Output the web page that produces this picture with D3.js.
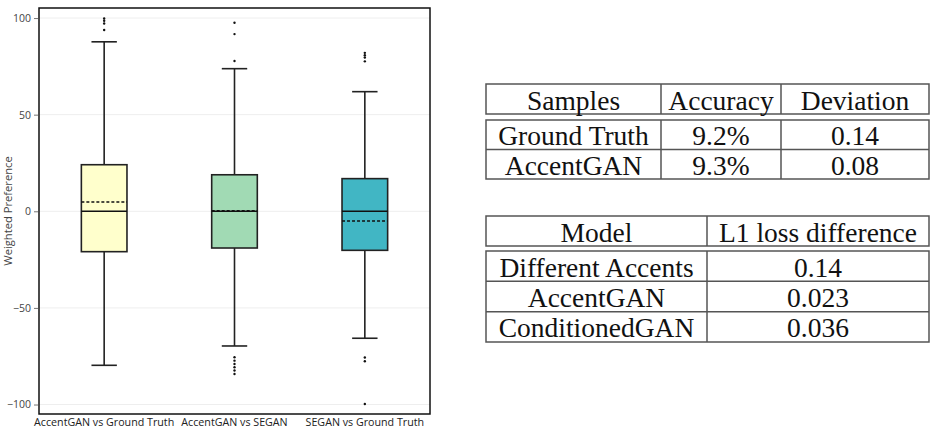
<!DOCTYPE html>
<html>
<head>
<meta charset="utf-8">
<script src="https://cdn.jsdelivr.net/npm/d3@7"></script>
<style>
  body { margin: 0; background: #fff; }
  svg { display: block; }
</style>
</head>
<body>
<script>
// Box plot data
const categories = ["AccentGAN vs Ground Truth", "AccentGAN vs SEGAN", "SEGAN vs Ground Truth"];
const q1 = [-20.9, -19.0, -20.2];
const medians = [0, 0, 0];
const q3 = [24.1, 18.9, 16.9];
const means = [4.8, 0.3, -5.0];
const whiskerLow = [-79.7, -69.7, -65.7];
const whiskerHigh = [87.7, 73.8, 61.9];
const outliers = [
  [99.8, 98.6, 97.2, 93.8],
  [97.6, 91.7, 77.8, -75.5, -77.3, -79.0, -80.7, -82.4, -84.2],
  [82.0, 80.8, 79.6, 77.6, -75.7, -77.6, -99.7]
];
const yTicks = [-100, -50, 0, 50, 100];
const boxColors = ["#ffffcc", "#a1dab4", "#41b6c4"];

// Tables
const table1Header = ["Samples", "Accuracy", "Deviation"];
const table1Rows = [["Ground Truth", "9.2%", "0.14"], ["AccentGAN", "9.3%", "0.08"]];
const table2Header = ["Model", "L1 loss difference"];
const table2Rows = [["Different Accents", "0.14"], ["AccentGAN", "0.023"], ["ConditionedGAN", "0.036"]];

const w = 931, h = 429;
const plot = { left: 39, right: 430, top: 8, bottom: 414 };

const svg = d3.select("body").append("svg")
  .attr("width", w)
  .attr("height", h);

const x = d3.scaleBand()
  .domain(categories)
  .range([plot.left, plot.right]);

const y = d3.scaleLinear()
  .domain([-104.9, 105.2])
  .range([plot.bottom, plot.top]);

// grid
svg.append("g")
  .selectAll("line")
  .data(yTicks)
  .join("line")
  .attr("x1", plot.left)
  .attr("x2", plot.right)
  .attr("y1", d => y(d))
  .attr("y2", d => y(d))
  .attr("stroke", "#eeeeee")
  .attr("stroke-width", 1);

// y axis
const yAxis = d3.axisLeft(y).tickValues(yTicks).tickSize(4).tickPadding(3)
  .tickFormat(d => d < 0 ? "\u2212" + Math.abs(d) : d);
const yg = svg.append("g")
  .attr("transform", `translate(${plot.left - 1},0)`)
  .call(yAxis);
yg.select(".domain").remove();
yg.selectAll(".tick line").attr("stroke", "#777");
yg.selectAll(".tick text")
  .attr("fill", "#444")
  .style("font-family", "'Open Sans', sans-serif")
  .style("font-size", "10.5px");

svg.append("text")
  .attr("transform", `translate(12,${(plot.top + plot.bottom) / 2}) rotate(-90)`)
  .attr("text-anchor", "middle")
  .attr("fill", "#444")
  .style("font-family", "'Open Sans', sans-serif")
  .style("font-size", "11.2px")
  .text("Weighted Preference");

// x labels
svg.append("g")
  .selectAll("text")
  .data(categories)
  .join("text")
  .attr("x", d => x(d) + x.bandwidth() / 2)
  .attr("y", 426)
  .attr("text-anchor", "middle")
  .attr("fill", "#222")
  .style("font-family", "'Open Sans', sans-serif")
  .style("font-size", "10.7px")
  .text(d => d);

// boxes
const boxW = x.bandwidth() * 0.35;
const capW = x.bandwidth() * 0.195;
const boxes = svg.append("g")
  .selectAll("g")
  .data(categories)
  .join("g")
  .attr("transform", d => `translate(${x(d) + x.bandwidth() / 2},0)`);

boxes.append("line")
  .attr("y1", (d, i) => y(whiskerHigh[i]))
  .attr("y2", (d, i) => y(q3[i]))
  .attr("stroke", "#222").attr("stroke-width", 1.6);
boxes.append("line")
  .attr("y1", (d, i) => y(q1[i]))
  .attr("y2", (d, i) => y(whiskerLow[i]))
  .attr("stroke", "#222").attr("stroke-width", 1.6);
boxes.append("line")
  .attr("x1", -capW / 2).attr("x2", capW / 2)
  .attr("y1", (d, i) => y(whiskerHigh[i]))
  .attr("y2", (d, i) => y(whiskerHigh[i]))
  .attr("stroke", "#222").attr("stroke-width", 1.6);
boxes.append("line")
  .attr("x1", -capW / 2).attr("x2", capW / 2)
  .attr("y1", (d, i) => y(whiskerLow[i]))
  .attr("y2", (d, i) => y(whiskerLow[i]))
  .attr("stroke", "#222").attr("stroke-width", 1.6);
boxes.append("rect")
  .attr("x", -boxW / 2)
  .attr("width", boxW)
  .attr("y", (d, i) => y(q3[i]))
  .attr("height", (d, i) => y(q1[i]) - y(q3[i]))
  .attr("fill", (d, i) => boxColors[i])
  .attr("stroke", "#222").attr("stroke-width", 1.6);
boxes.append("line")
  .attr("x1", -boxW / 2).attr("x2", boxW / 2)
  .attr("y1", (d, i) => y(medians[i]))
  .attr("y2", (d, i) => y(medians[i]))
  .attr("stroke", "#111").attr("stroke-width", 1.6);
boxes.append("line")
  .attr("x1", -boxW / 2).attr("x2", boxW / 2)
  .attr("y1", (d, i) => y(means[i]))
  .attr("y2", (d, i) => y(means[i]))
  .attr("stroke", "#111").attr("stroke-width", 1.4)
  .attr("stroke-dasharray", "3,2");
boxes.each(function (d, i) {
  d3.select(this).selectAll("circle")
    .data(outliers[i])
    .join("circle")
    .attr("cx", 0)
    .attr("cy", v => y(v))
    .attr("r", 1.2)
    .attr("fill", "#111");
});

// frame
svg.append("rect")
  .attr("x", plot.left)
  .attr("y", plot.top)
  .attr("width", plot.right - plot.left)
  .attr("height", plot.bottom - plot.top)
  .attr("fill", "none")
  .attr("stroke", "#111")
  .attr("stroke-width", 1.5);

// tables
function drawTable(header, rows, colEdges, headTop, headBottom, bodyTop, bodyBottom) {
  const g = svg.append("g");
  const rowY = d3.scaleBand()
    .domain(d3.range(rows.length))
    .range([bodyTop, bodyBottom]);
  const line = (x1, y1, x2, y2) => g.append("line")
    .attr("x1", x1).attr("y1", y1).attr("x2", x2).attr("y2", y2)
    .attr("stroke", "#555").attr("stroke-width", 1.5);
  const left = colEdges[0], right = colEdges[colEdges.length - 1];

  g.append("rect").attr("x", left).attr("y", headTop)
    .attr("width", right - left).attr("height", headBottom - headTop)
    .attr("fill", "none").attr("stroke", "#555").attr("stroke-width", 1.5);
  g.append("rect").attr("x", left).attr("y", bodyTop)
    .attr("width", right - left).attr("height", bodyBottom - bodyTop)
    .attr("fill", "none").attr("stroke", "#555").attr("stroke-width", 1.5);
  colEdges.slice(1, -1).forEach(cx => {
    line(cx, headTop, cx, headBottom);
    line(cx, bodyTop, cx, bodyBottom);
  });
  d3.range(1, rows.length).forEach(r => line(left, rowY(r), right, rowY(r)));

  const txt = (t, cx, cy) => g.append("text")
    .attr("x", cx).attr("y", cy)
    .attr("text-anchor", "middle")
    .attr("dominant-baseline", "central")
    .attr("fill", "#111")
    .style("font-family", "'Liberation Serif', 'Times New Roman', serif")
    .style("font-size", "27.5px")
    .text(t);
  header.forEach((t, c) => txt(t, (colEdges[c] + colEdges[c + 1]) / 2, (headTop + headBottom) / 2 + 1));
  rows.forEach((row, r) => row.forEach((t, c) =>
    txt(t, (colEdges[c] + colEdges[c + 1]) / 2, rowY(r) + rowY.bandwidth() / 2 + 1)));
}

drawTable(table1Header, table1Rows, [486, 661, 781, 929], 84, 114, 120, 179);
drawTable(table2Header, table2Rows, [486, 707, 929], 216, 246, 251, 342);
</script>
</body>
</html>
